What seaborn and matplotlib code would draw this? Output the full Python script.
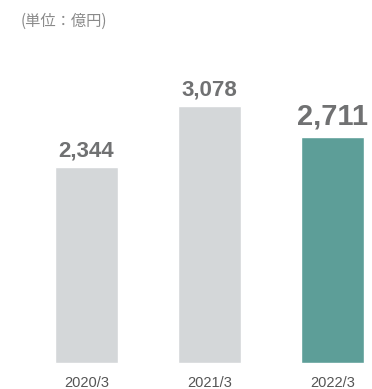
import matplotlib
matplotlib.use("Agg")
import matplotlib.pyplot as plt
import seaborn as sns
import pandas as pd

# Revenue by fiscal year end (unit: 100 million yen)
years = ["2020/3", "2021/3", "2022/3"]
values = [2344, 3078, 2711]
bar_colors = ["#d4d7d9", "#d4d7d9", "#5d9e98"]
label_sizes = [16, 16, 21]
label_gaps = [7.5, 7.5, 8.5]

sns.set_theme(style="white")
plt.rcParams["font.family"] = ["Liberation Sans", "Noto Sans CJK JP", "DejaVu Sans"]

df = pd.DataFrame({"year": years, "value": values})

fig = plt.figure(figsize=(3.72, 3.89), dpi=100)
ax = fig.add_axes([0, 0, 1, 1])

sns.barplot(data=df, x="year", y="value", hue="year", palette=bar_colors,
            width=0.505, legend=False, ax=ax, saturation=1)

ax.set_xlim(-0.703, 2.321)
ax.set_ylim(-311, 4347)

for i, (v, fs, gap) in enumerate(zip(values, label_sizes, label_gaps)):
    ax.annotate(f"{v:,}", xy=(i, v), xytext=(0, gap), textcoords="offset points",
                ha="center", va="baseline", fontsize=fs, fontweight="bold",
                color="#707172")

# Category labels under each bar
for i, yr in enumerate(years):
    ax.annotate(yr, xy=(i, 0), xytext=(0, -17), textcoords="offset points",
                ha="center", va="baseline", fontsize=10.5, color="#555555")

ax.set_xticks([])
ax.set_yticks([])
ax.set_xlabel("")
ax.set_ylabel("")
for s in ax.spines.values():
    s.set_visible(False)

fig.text(21 / 372, 1 - 21 / 389, "(単位：億円)", ha="left", va="center",
         fontsize=11, color="#8a8a8a", family=["Noto Sans CJK JP", "DejaVu Sans"])

fig.savefig("out.png", dpi=100, facecolor="white")
